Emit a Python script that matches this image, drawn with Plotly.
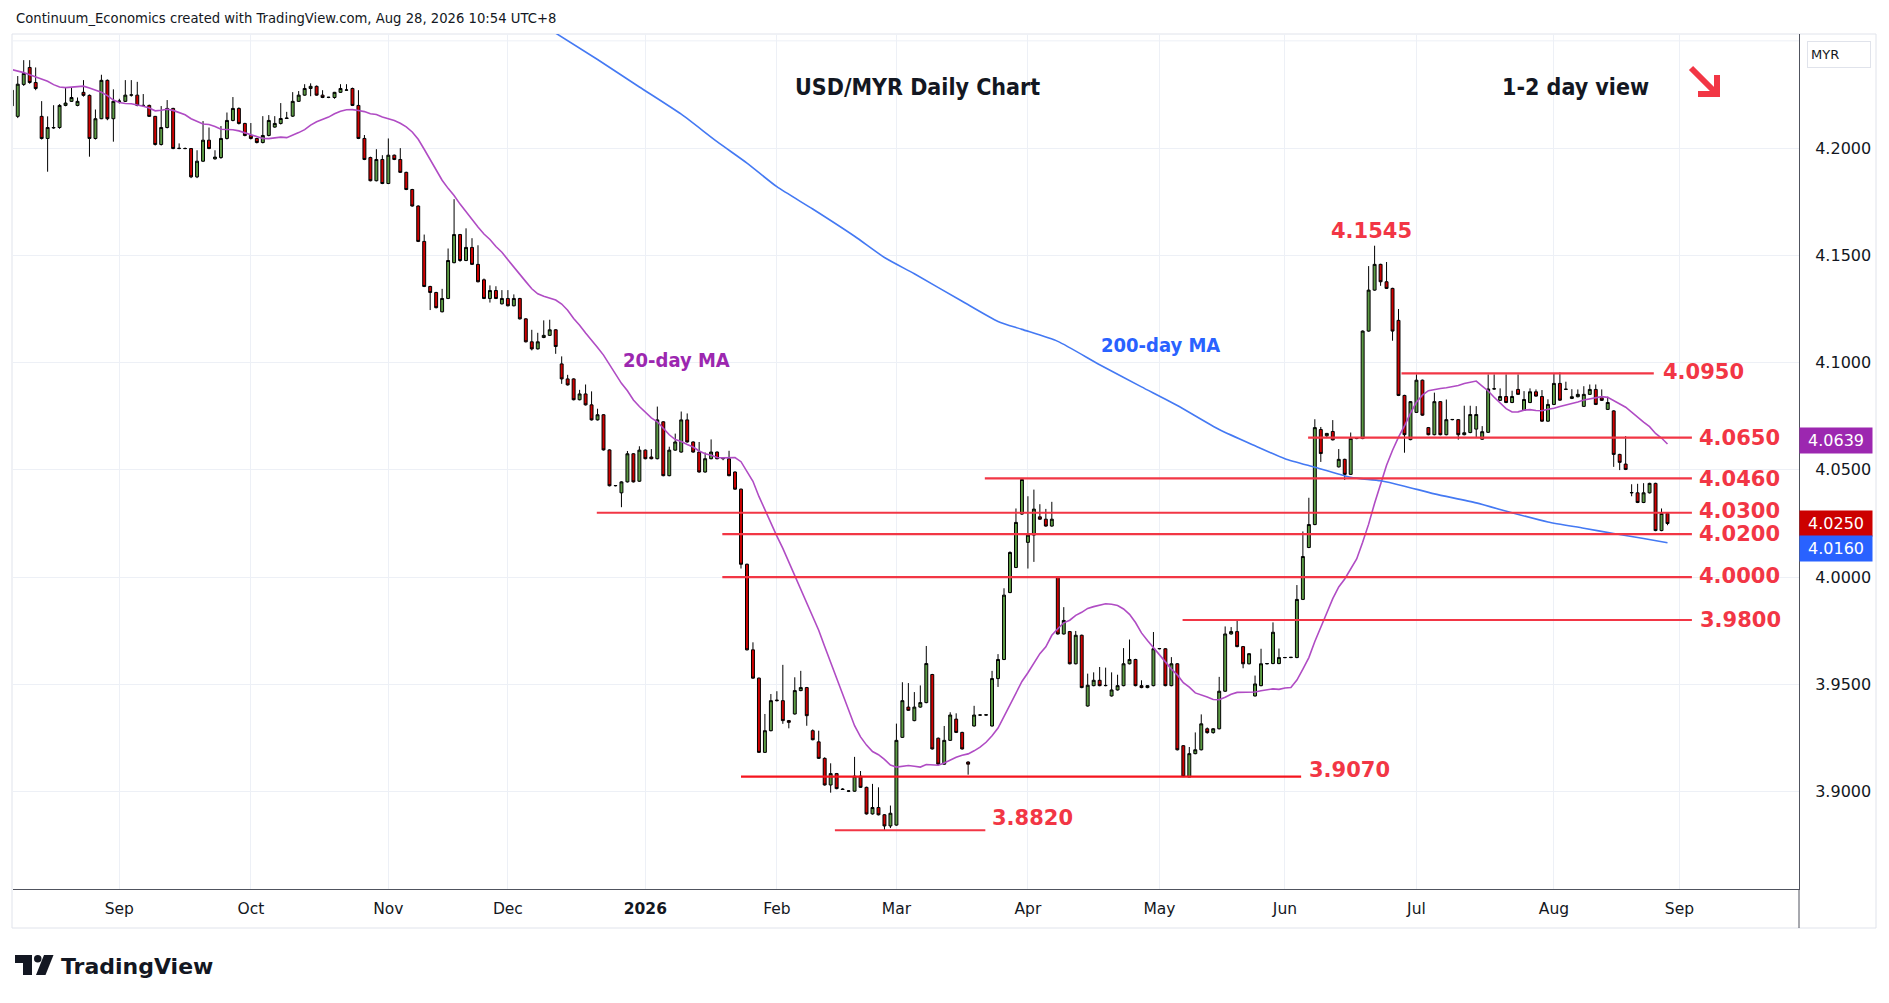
import pandas as pd
import plotly.graph_objects as go

# ---------------- data ----------------
dates = pd.bdate_range("2025-08-06", "2026-08-28")

opens = [
    4.2197, 4.2148, 4.2297, 4.2376, 4.2306, 4.2148, 4.2045, 4.2094, 4.2096, 4.2199,
    4.2218, 4.2199, 4.2260, 4.2246, 4.2045, 4.2137, 4.2316, 4.2137, 4.2218, 4.2218,
    4.2247, 4.2247, 4.2199, 4.2199, 4.2148, 4.2017, 4.2096, 4.2185, 4.1998, 4.1998,
    4.1998, 4.1866, 4.1939, 4.2037, 4.1950, 4.1956, 4.2045, 4.2129, 4.2185, 4.2115,
    4.2059, 4.2045, 4.2026, 4.2059, 4.2098, 4.2115, 4.2138, 4.2149, 4.2218, 4.2247,
    4.2278, 4.2288, 4.2247, 4.2236, 4.2236, 4.2260, 4.2270, 4.2278, 4.2199, 4.2045,
    4.1956, 4.1848, 4.1947, 4.1835, 4.1967, 4.1947, 4.1887, 4.1807, 4.1730, 4.1565,
    4.1355, 4.1327, 4.1237, 4.1299, 4.1466, 4.1597, 4.1476, 4.1537, 4.1458, 4.1386,
    4.1299, 4.1336, 4.1274, 4.1299, 4.1265, 4.1299, 4.1204, 4.1097, 4.1064, 4.1117,
    4.1127, 4.1153, 4.0994, 4.0924, 4.0924, 4.0827, 4.0854, 4.0803, 4.0733, 4.0757,
    4.0593, 4.0426, 4.0393, 4.0444, 4.0575, 4.0447, 4.0592, 4.0560, 4.0552, 4.0724,
    4.0473, 4.0592, 4.0583, 4.0733, 4.0630, 4.0583, 4.0490, 4.0552, 4.0583, 4.0552,
    4.0552, 4.0490, 4.0410, 4.0060, 3.9661, 3.9529, 3.9183, 3.9284, 3.9424, 3.9424,
    3.9331, 3.9362, 3.9471, 3.9485, 3.9284, 3.9232, 3.9155, 3.9031, 3.9084, 3.9012,
    3.9002, 3.9002, 3.9072, 3.9020, 3.8896, 3.8926, 3.8892, 3.8840, 3.8844, 3.9253,
    3.9394, 3.9331, 3.9394, 3.9415, 3.9546, 3.9249, 3.9128, 3.9239, 3.9338, 3.9276,
    3.9138, 3.9306, 3.9357, 3.9357, 3.9306, 3.9527, 3.9616, 3.9928, 4.0045, 4.0294,
    4.0162, 4.0196, 4.0281, 4.0270, 4.0238, 3.9999, 3.9735, 3.9746, 3.9596, 3.9729,
    3.9399, 3.9494, 3.9519, 3.9494, 3.9446, 3.9474, 3.9494, 3.9596, 3.9616, 3.9494,
    3.9485, 3.9494, 3.9666, 3.9666, 3.9494, 3.9596, 3.9214, 3.9068, 3.9177, 3.9195,
    3.9293, 3.9275, 3.9293, 3.9468, 3.9735, 3.9746, 3.9676, 3.9596, 3.9446, 3.9494,
    3.9596, 3.9597, 3.9597, 3.9625, 3.9625, 3.9625, 3.9896, 4.0138, 4.0245, 4.0688,
    4.0659, 4.0679, 4.0514, 4.0549, 4.0479, 4.0646, 4.0646, 4.1147, 4.1338, 4.1458,
    4.1377, 4.1346, 4.1197, 4.0847, 4.0641, 4.0768, 4.0918, 4.0697, 4.0664, 4.0818,
    4.0664, 4.0734, 4.0734, 4.0664, 4.0674, 4.0690, 4.0643, 4.0675, 4.0877, 4.0824,
    4.0842, 4.0814, 4.0875, 4.0778, 4.0814, 4.0864, 4.0842, 4.0727, 4.0805, 4.0903,
    4.0875, 4.0833, 4.0841, 4.0796, 4.0852, 4.0875, 4.0836, 4.0782, 4.0775, 4.0572,
    4.0527, 4.0393, 4.0393, 4.0348, 4.0393, 4.0437, 4.0217, 4.0297,
]

highs = [
    4.2280, 4.2336, 4.2410, 4.2410, 4.2376, 4.2219, 4.2148, 4.2200, 4.2205, 4.2281,
    4.2281, 4.2236, 4.2317, 4.2250, 4.2180, 4.2342, 4.2320, 4.2274, 4.2230, 4.2317,
    4.2317, 4.2309, 4.2252, 4.2203, 4.2150, 4.2196, 4.2224, 4.2188, 4.2022, 4.2003,
    4.2000, 4.1990, 4.2126, 4.2096, 4.1990, 4.2103, 4.2166, 4.2238, 4.2190, 4.2118,
    4.2117, 4.2048, 4.2149, 4.2154, 4.2149, 4.2210, 4.2169, 4.2261, 4.2266, 4.2298,
    4.2302, 4.2292, 4.2270, 4.2239, 4.2262, 4.2298, 4.2298, 4.2282, 4.2270, 4.2061,
    4.1960, 4.1995, 4.1967, 4.2045, 4.1970, 4.2000, 4.1890, 4.1810, 4.1733, 4.1597,
    4.1358, 4.1330, 4.1344, 4.1532, 4.1762, 4.1600, 4.1626, 4.1580, 4.1547, 4.1392,
    4.1360, 4.1356, 4.1338, 4.1338, 4.1318, 4.1302, 4.1207, 4.1153, 4.1139, 4.1197,
    4.1200, 4.1156, 4.1029, 4.0943, 4.0927, 4.0873, 4.0898, 4.0866, 4.0785, 4.0760,
    4.0596, 4.0429, 4.0447, 4.0588, 4.0578, 4.0610, 4.0595, 4.0597, 4.0795, 4.0727,
    4.0608, 4.0669, 4.0772, 4.0763, 4.0633, 4.0630, 4.0581, 4.0642, 4.0586, 4.0560,
    4.0589, 4.0493, 4.0413, 4.0063, 3.9696, 3.9532, 3.9362, 3.9455, 3.9468, 3.9591,
    3.9334, 3.9533, 3.9563, 3.9488, 3.9290, 3.9284, 3.9160, 3.9132, 3.9087, 3.9016,
    3.9006, 3.9162, 3.9096, 3.9023, 3.9036, 3.9020, 3.8895, 3.8935, 3.9317, 3.9510,
    3.9506, 3.9464, 3.9495, 3.9679, 3.9549, 3.9252, 3.9306, 3.9370, 3.9365, 3.9279,
    3.9141, 3.9400, 3.9360, 3.9360, 3.9563, 3.9641, 3.9948, 4.0120, 4.0320, 4.0460,
    4.0377, 4.0408, 4.0340, 4.0318, 4.0351, 4.0002, 3.9860, 3.9749, 3.9749, 3.9732,
    3.9550, 3.9556, 3.9581, 3.9578, 3.9556, 3.9545, 3.9669, 3.9709, 3.9619, 3.9519,
    3.9488, 3.9744, 3.9669, 3.9669, 3.9627, 3.9599, 3.9217, 3.9208, 3.9276, 3.9360,
    3.9299, 3.9296, 3.9535, 3.9770, 3.9767, 3.9798, 3.9679, 3.9646, 3.9541, 3.9666,
    3.9599, 3.9789, 3.9667, 3.9628, 3.9628, 3.9963, 4.0213, 4.0370, 4.0736, 4.0700,
    4.0672, 4.0732, 4.0597, 4.0552, 4.0674, 4.0649, 4.1150, 4.1450, 4.1545, 4.1461,
    4.1469, 4.1349, 4.1250, 4.0850, 4.0821, 4.0945, 4.0921, 4.0700, 4.0860, 4.0821,
    4.0828, 4.0737, 4.0737, 4.0799, 4.0799, 4.0797, 4.0704, 4.0945, 4.0945, 4.0880,
    4.0945, 4.0869, 4.0945, 4.0867, 4.0880, 4.0875, 4.0872, 4.0829, 4.0949, 4.0954,
    4.0911, 4.0876, 4.0875, 4.0890, 4.0898, 4.0898, 4.0875, 4.0841, 4.0778, 4.0575,
    4.0657, 4.0433, 4.0435, 4.0438, 4.0440, 4.0440, 4.0320, 4.0300,
]

lows = [
    4.2190, 4.2140, 4.2290, 4.2300, 4.2270, 4.2040, 4.1890, 4.2090, 4.2090, 4.2195,
    4.2215, 4.2195, 4.2240, 4.1960, 4.2040, 4.2135, 4.2130, 4.2030, 4.2208, 4.2215,
    4.2240, 4.2195, 4.2195, 4.2145, 4.2012, 4.2012, 4.2092, 4.1995, 4.1995, 4.1995,
    4.1860, 4.1860, 4.1935, 4.1995, 4.1946, 4.1950, 4.2040, 4.2125, 4.2110, 4.2055,
    4.2040, 4.2022, 4.2022, 4.2055, 4.2095, 4.2110, 4.2136, 4.2145, 4.2215, 4.2244,
    4.2242, 4.2244, 4.2233, 4.2233, 4.2230, 4.2257, 4.2268, 4.2196, 4.2042, 4.1944,
    4.1845, 4.1845, 4.1832, 4.1832, 4.1944, 4.1884, 4.1804, 4.1727, 4.1562, 4.1352,
    4.1245, 4.1253, 4.1234, 4.1296, 4.1463, 4.1470, 4.1473, 4.1455, 4.1374, 4.1296,
    4.1280, 4.1296, 4.1271, 4.1262, 4.1262, 4.1201, 4.1094, 4.1057, 4.1061, 4.1114,
    4.1124, 4.1041, 4.0901, 4.0893, 4.0824, 4.0824, 4.0800, 4.0730, 4.0730, 4.0590,
    4.0423, 4.0423, 4.0326, 4.0441, 4.0441, 4.0444, 4.0549, 4.0549, 4.0549, 4.0470,
    4.0470, 4.0589, 4.0580, 4.0627, 4.0580, 4.0487, 4.0487, 4.0549, 4.0549, 4.0545,
    4.0470, 4.0407, 4.0040, 3.9658, 3.9526, 3.9180, 3.9180, 3.9281, 3.9420, 3.9316,
    3.9295, 3.9359, 3.9468, 3.9307, 3.9239, 3.9152, 3.9028, 3.8995, 3.9011, 3.9008,
    3.8998, 3.8999, 3.9017, 3.8893, 3.8893, 3.8889, 3.8820, 3.8830, 3.8841, 3.9250,
    3.9376, 3.9328, 3.9391, 3.9412, 3.9196, 3.9125, 3.9125, 3.9236, 3.9273, 3.9196,
    3.9079, 3.9303, 3.9354, 3.9354, 3.9303, 3.9488, 3.9613, 3.9925, 4.0042, 4.0290,
    4.0040, 4.0071, 4.0267, 4.0235, 4.0235, 3.9732, 3.9732, 3.9593, 3.9593, 3.9482,
    3.9396, 3.9491, 3.9491, 3.9491, 3.9443, 3.9471, 3.9491, 3.9593, 3.9491, 3.9482,
    3.9482, 3.9491, 3.9663, 3.9491, 3.9491, 3.9192, 3.9068, 3.9068, 3.9174, 3.9192,
    3.9270, 3.9270, 3.9290, 3.9465, 3.9732, 3.9673, 3.9575, 3.9593, 3.9443, 3.9491,
    3.9593, 3.9594, 3.9594, 3.9622, 3.9622, 3.9622, 3.9893, 4.0135, 4.0242, 4.0537,
    4.0648, 4.0637, 4.0511, 4.0453, 4.0476, 4.0643, 4.0643, 4.1144, 4.1335, 4.1358,
    4.1343, 4.1102, 4.0844, 4.0580, 4.0638, 4.0765, 4.0752, 4.0661, 4.0661, 4.0661,
    4.0661, 4.0731, 4.0641, 4.0661, 4.0671, 4.0650, 4.0640, 4.0672, 4.0874, 4.0821,
    4.0811, 4.0811, 4.0849, 4.0775, 4.0811, 4.0841, 4.0724, 4.0724, 4.0802, 4.0822,
    4.0872, 4.0830, 4.0838, 4.0793, 4.0849, 4.0802, 4.0821, 4.0779, 4.0514, 4.0499,
    4.0499, 4.0377, 4.0345, 4.0345, 4.0390, 4.0214, 4.0214, 4.0242,
]

closes = [
    4.2270, 4.2298, 4.2348, 4.2306, 4.2278, 4.2045, 4.2096, 4.2096, 4.2199, 4.2210,
    4.2236, 4.2218, 4.2246, 4.2045, 4.2137, 4.2316, 4.2137, 4.2218, 4.2219, 4.2247,
    4.2248, 4.2199, 4.2199, 4.2148, 4.2017, 4.2096, 4.2185, 4.1998, 4.1999, 4.1998,
    4.1866, 4.1939, 4.2037, 4.1998, 4.1958, 4.2045, 4.2129, 4.2185, 4.2115, 4.2059,
    4.2045, 4.2026, 4.2059, 4.2129, 4.2115, 4.2138, 4.2140, 4.2218, 4.2247, 4.2278,
    4.2288, 4.2247, 4.2236, 4.2237, 4.2260, 4.2278, 4.2271, 4.2199, 4.2045, 4.1947,
    4.1848, 4.1947, 4.1835, 4.1967, 4.1947, 4.1887, 4.1807, 4.1730, 4.1565, 4.1355,
    4.1327, 4.1256, 4.1299, 4.1476, 4.1597, 4.1476, 4.1537, 4.1458, 4.1377, 4.1299,
    4.1336, 4.1299, 4.1299, 4.1265, 4.1299, 4.1204, 4.1097, 4.1064, 4.1097, 4.1127,
    4.1153, 4.1075, 4.0924, 4.0896, 4.0827, 4.0854, 4.0803, 4.0733, 4.0757, 4.0593,
    4.0426, 4.0427, 4.0444, 4.0575, 4.0444, 4.0592, 4.0552, 4.0552, 4.0733, 4.0473,
    4.0592, 4.0630, 4.0733, 4.0630, 4.0583, 4.0490, 4.0552, 4.0583, 4.0552, 4.0553,
    4.0473, 4.0410, 4.0060, 3.9661, 3.9529, 3.9183, 3.9284, 3.9424, 3.9426, 3.9331,
    3.9323, 3.9471, 3.9485, 3.9354, 3.9242, 3.9155, 3.9031, 3.9084, 3.9014, 3.9010,
    3.9003, 3.9072, 3.9020, 3.8896, 3.8926, 3.8892, 3.8840, 3.8899, 3.9239, 3.9424,
    3.9379, 3.9394, 3.9415, 3.9597, 3.9199, 3.9128, 3.9239, 3.9357, 3.9276, 3.9199,
    3.9128, 3.9357, 3.9357, 3.9358, 3.9527, 3.9616, 3.9916, 4.0115, 4.0255, 4.0455,
    4.0196, 4.0317, 4.0270, 4.0238, 4.0270, 3.9735, 3.9798, 3.9596, 3.9729, 3.9485,
    3.9496, 3.9519, 3.9494, 3.9495, 3.9474, 3.9494, 3.9596, 3.9616, 3.9494, 3.9485,
    3.9494, 3.9666, 3.9667, 3.9494, 3.9596, 3.9195, 3.9070, 3.9177, 3.9195, 3.9316,
    3.9275, 3.9293, 3.9468, 3.9735, 3.9746, 3.9676, 3.9596, 3.9643, 3.9502, 3.9596,
    3.9597, 3.9743, 3.9625, 3.9625, 3.9626, 3.9896, 4.0096, 4.0245, 4.0697, 4.0576,
    4.0670, 4.0640, 4.0549, 4.0479, 4.0646, 4.0647, 4.1147, 4.1338, 4.1458, 4.1377,
    4.1346, 4.1147, 4.0847, 4.0664, 4.0818, 4.0918, 4.0755, 4.0664, 4.0818, 4.0664,
    4.0734, 4.0735, 4.0664, 4.0673, 4.0758, 4.0758, 4.0678, 4.0877, 4.0878, 4.0842,
    4.0814, 4.0842, 4.0852, 4.0828, 4.0864, 4.0844, 4.0727, 4.0805, 4.0903, 4.0825,
    4.0876, 4.0841, 4.0852, 4.0852, 4.0875, 4.0805, 4.0824, 4.0814, 4.0572, 4.0535,
    4.0502, 4.0394, 4.0348, 4.0393, 4.0437, 4.0217, 4.0297, 4.0250,
]

# 20-day MA values for the first 19 sessions (no earlier closes visible)
ma20_head = [4.2366, 4.2360, 4.2352, 4.2342, 4.2332, 4.2323, 4.2312, 4.2296, 4.2285, 4.2282,
             4.2284, 4.2286, 4.2289, 4.2280, 4.2270, 4.2260, 4.2245, 4.2224, 4.2213]

# 200-day MA
ma200_dates = ["2025-12-11", "2025-12-22", "2025-12-31", "2026-01-09", "2026-01-19", "2026-01-26",
               "2026-02-02", "2026-02-10", "2026-02-19", "2026-02-26", "2026-03-05", "2026-03-17",
               "2026-03-25", "2026-03-31", "2026-04-08", "2026-04-17", "2026-04-28", "2026-05-06",
               "2026-05-15", "2026-05-25", "2026-06-01", "2026-06-08", "2026-06-16", "2026-06-23",
               "2026-06-29", "2026-07-06", "2026-07-15", "2026-07-23", "2026-07-31", "2026-08-10",
               "2026-08-17", "2026-08-24", "2026-08-28"]
ma200_values = [4.2536, 4.2413, 4.2285, 4.2158, 4.2030, 4.1930,
                4.1820, 4.1716, 4.1589, 4.1490, 4.1414, 4.1286,
                4.1192, 4.1155, 4.1099, 4.0990, 4.0887, 4.0800,
                4.0688, 4.0612, 4.0552, 4.0512, 4.0465, 4.0449,
                4.0424, 4.0388, 4.0346, 4.0300, 4.0257, 4.0228,
                4.0203, 4.0180, 4.0160]

# horizontal levels
levels = [4.0950, 4.0650, 4.0460, 4.0300, 4.0200, 4.0000, 3.9800, 3.9070, 3.8820]
level_text = ["4.0950", "4.0650", "4.0460", "4.0300", "4.0200", "4.0000", "3.9800", "3.9070", "3.8820"]
level_start = ["2026-06-26 12:00", "2026-06-04 21:00", "2026-03-20 19:00", "2025-12-19 21:00",
               "2026-01-19 21:00", "2026-01-19 21:00", "2026-05-06 21:00", "2026-01-23 00:00",
               "2026-02-13 17:00"]
level_end = ["2026-08-25 17:00", "2026-09-03 02:00", "2026-09-03 02:00", "2026-09-03 02:00",
             "2026-09-03 02:00", "2026-09-03 02:00", "2026-09-03 02:00", "2026-06-03 17:00",
             "2026-03-20 21:00"]
level_label_x = ["2026-08-26 22:00", "2026-09-04 00:00", "2026-09-04 00:00", "2026-09-04 00:00",
                 "2026-09-04 00:00", "2026-09-04 00:00", "2026-09-04 04:00", "2026-06-04 17:00",
                 "2026-03-23 17:00"]
level_label_shift = [1, 0, -1, 2, 0, 1, 0, 7, -2]
peak_value = 4.1545
peak_date = "2026-06-19 10:00"

tag_values = [4.0639, 4.0250, 4.0160]
tag_colors = ["#9c27b0", "#cc0000", "#2962ff"]

y_ticks = [3.90, 3.95, 4.00, 4.05, 4.10, 4.15, 4.20]
x_ticks = ["2025-09-01", "2025-10-01", "2025-11-03", "2025-12-01", "2026-01-01", "2026-02-02",
           "2026-03-02", "2026-04-01", "2026-05-01", "2026-06-01", "2026-07-01", "2026-08-03",
           "2026-09-01"]
x_tick_text = ["Sep", "Oct", "Nov", "Dec", "<b>2026</b>", "Feb", "Mar", "Apr", "May", "Jun",
               "Jul", "Aug", "Sep"]

# ---------------- derived series ----------------
roll = pd.Series(closes).rolling(20).mean().tolist()
ma20 = ma20_head + roll[len(ma20_head):]

# ---------------- figure ----------------
W, H = 1889, 1003
L, R, T, B = 13, 1799, 34, 889  # plot area in pixels


def px(x):
    return (x - L) / (R - L)


def py(y):
    return (B - y) / (B - T)


RED = "#f23645"
FONT = "DejaVu Sans"
CFONT = "DejaVu Sans Condensed"
GRID = "#edf0f6"

fig = go.Figure()

fig.add_trace(go.Candlestick(
    x=dates, open=opens, high=highs, low=lows, close=closes,
    increasing=dict(fillcolor="#5b9a43", line=dict(color="#000000", width=1)),
    decreasing=dict(fillcolor="#d00000", line=dict(color="#000000", width=1)),
    whiskerwidth=0, hoverinfo="skip", showlegend=False,
))

fig.add_trace(go.Scatter(x=dates, y=ma20, mode="lines",
                         line=dict(color="#b04cc4", width=1.6), hoverinfo="skip", showlegend=False))
fig.add_trace(go.Scatter(x=pd.to_datetime(ma200_dates), y=ma200_values, mode="lines",
                         line=dict(color="#4479f3", width=1.6, shape="spline", smoothing=0.6),
                         hoverinfo="skip", showlegend=False))

for i, v in enumerate(levels):
    col = "#f5141e" if v in (3.9070,) else RED
    fig.add_trace(go.Scatter(x=[level_start[i], level_end[i]], y=[v, v], mode="lines",
                             line=dict(color=col, width=2.2), hoverinfo="skip", showlegend=False))

LVLFONT = dict(family=FONT, size=21, color=RED, weight="bold")
annotations = []
for i, v in enumerate(levels):
    anchor = "bottom" if v == 3.8820 else "middle"
    annotations.append(dict(x=level_label_x[i], y=v, xref="x", yref="y", text=level_text[i],
                            showarrow=False, xanchor="left", yanchor=anchor,
                            yshift=level_label_shift[i], font=LVLFONT))

annotations.append(dict(x=peak_date, y=peak_value, xref="x", yref="y", text="4.1545",
                        showarrow=False, xanchor="center", yanchor="bottom", yshift=1,
                        font=LVLFONT))

annotations.append(dict(x="2025-12-26", y=4.1011, xref="x", yref="y", text="20-day MA",
                        showarrow=False, xanchor="left", yanchor="middle",
                        font=dict(family=CFONT, size=20, color="#9c27b0", weight="bold")))
annotations.append(dict(x="2026-04-16 21:00", y=4.1084, xref="x", yref="y", text="200-day MA",
                        showarrow=False, xanchor="left", yanchor="middle",
                        font=dict(family=CFONT, size=20, color="#2962ff", weight="bold")))

annotations.append(dict(x=px(793), y=py(87), xref="paper", yref="paper", text="USD/MYR Daily Chart",
                        showarrow=False, xanchor="left", yanchor="middle",
                        font=dict(family=CFONT, size=23, color="#131722", weight="bold")))
annotations.append(dict(x=px(1500), y=py(87), xref="paper", yref="paper", text="1-2 day view",
                        showarrow=False, xanchor="left", yanchor="middle",
                        font=dict(family=CFONT, size=23, color="#131722", weight="bold")))

annotations.append(dict(x=px(14), y=py(18), xref="paper", yref="paper",
                        text="Continuum_Economics created with TradingView.com, Aug 28, 2026 10:54 UTC+8",
                        showarrow=False, xanchor="left", yanchor="middle",
                        font=dict(family=FONT, size=13.2, color="#131722")))
annotations.append(dict(x=px(59), y=py(966), xref="paper", yref="paper", text="<b>TradingView</b>",
                        showarrow=False, xanchor="left", yanchor="middle",
                        font=dict(family=FONT, size=22, color="#131722")))

annotations.append(dict(x=px(1807), y=py(55), xref="paper", yref="paper", text="MYR",
                        showarrow=False, xanchor="left", yanchor="middle", align="left",
                        width=56, height=19, borderpad=3, bordercolor="#e0e3eb", borderwidth=1,
                        bgcolor="#ffffff", font=dict(family=FONT, size=13, color="#131722")))

tag_shift = [0, 0, -6]
for v, c, s in zip(tag_values, tag_colors, tag_shift):
    annotations.append(dict(x=1, y=v, xref="paper", yref="y", text=f"{v:.4f}", showarrow=False,
                            xanchor="left", yanchor="middle", yshift=s, width=64, height=17,
                            borderpad=4, bgcolor=c, align="center",
                            font=dict(family=FONT, size=16, color="#ffffff")))

shapes = []
# pane border
shapes.append(dict(type="rect", xref="paper", yref="paper", x0=px(12), x1=px(1876), y0=py(928), y1=py(34),
                   line=dict(color="#e0e3eb", width=1), layer="below"))
# extra grid line at 4.25
shapes.append(dict(type="line", xref="paper", yref="y", x0=0, x1=1, y0=4.25, y1=4.25,
                   line=dict(color=GRID, width=1), layer="below"))
# price axis line extension
shapes.append(dict(type="line", xref="paper", yref="paper", x0=1, x1=1, y0=py(928), y1=0,
                   line=dict(color="#50535e", width=1)))
# arrow
shapes.append(dict(type="line", xref="paper", yref="paper", x0=px(1691), y0=py(68), x1=px(1714), y1=py(91),
                   line=dict(color=RED, width=6)))
shapes.append(dict(type="path", xref="paper", yref="paper",
                   path=f"M {px(1717)},{py(75)} L {px(1717)},{py(94)} L {px(1698)},{py(94)}",
                   line=dict(color=RED, width=6)))
# TradingView logo
LOGO = "#131722"
shapes.append(dict(type="path", xref="paper", yref="paper",
                   path=(f"M {px(15)},{py(955)} L {px(32)},{py(955)} L {px(32)},{py(975)} "
                         f"L {px(23)},{py(975)} L {px(23)},{py(963)} L {px(15)},{py(963)} Z"),
                   fillcolor=LOGO, line=dict(width=0)))
shapes.append(dict(type="circle", xref="paper", yref="paper", x0=px(34), x1=px(41.5), y0=py(962.5), y1=py(955),
                   fillcolor=LOGO, line=dict(width=0)))
shapes.append(dict(type="path", xref="paper", yref="paper",
                   path=(f"M {px(44)},{py(955)} L {px(53.5)},{py(955)} L {px(45.5)},{py(975)} "
                         f"L {px(36)},{py(975)} Z"),
                   fillcolor=LOGO, line=dict(width=0)))

fig.update_layout(
    width=W, height=H,
    margin=dict(l=L, r=W - R, t=T, b=H - B, pad=0),
    paper_bgcolor="#ffffff", plot_bgcolor="#ffffff",
    showlegend=False, hovermode=False,
    annotations=annotations, shapes=shapes,
    font=dict(family=FONT, color="#131722"),
)

fig.update_xaxes(
    type="date",
    range=["2025-08-06 05:00", "2026-09-29 00:00"],
    rangebreaks=[dict(bounds=["sat", "mon"])],
    rangeslider=dict(visible=False),
    tickmode="array", tickvals=x_ticks, ticktext=x_tick_text,
    showgrid=True, gridcolor=GRID, gridwidth=1,
    showline=True, linecolor="#50535e", linewidth=1,
    zeroline=False, ticks="", ticklabelstandoff=5,
    tickfont=dict(family=FONT, size=15.5, color="#131722"),
)
fig.update_yaxes(
    side="right",
    range=[3.8546, 4.2532],
    tickmode="array", tickvals=y_ticks, ticktext=[f"{v:.4f}" for v in y_ticks],
    showgrid=True, gridcolor=GRID, gridwidth=1,
    showline=True, linecolor="#50535e", linewidth=1,
    zeroline=False, ticks="", ticklabelstandoff=12,
    tickfont=dict(family=FONT, size=16, color="#131722"),
)

fig.write_html("out.html", config={"displayModeBar": False},
               post_script="document.body.style.margin='0';document.body.style.overflow='hidden';")
